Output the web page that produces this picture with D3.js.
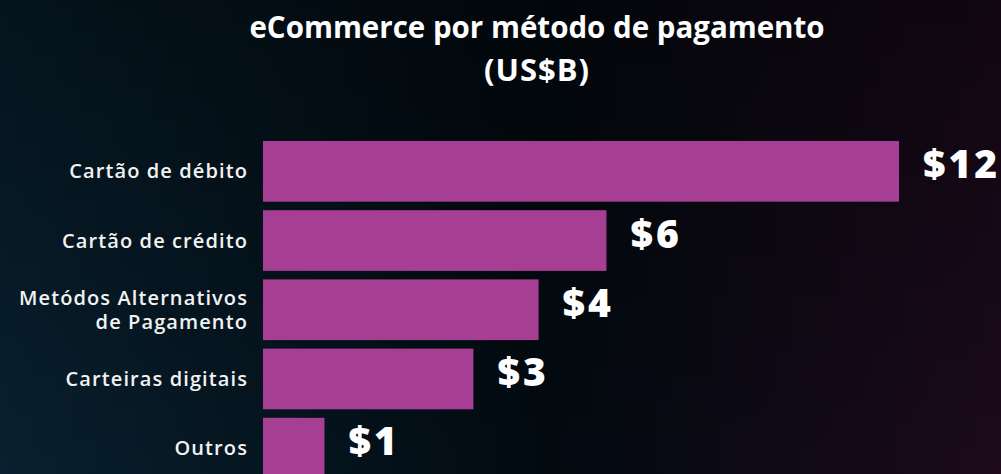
<!DOCTYPE html>
<html>
<head>
<meta charset="utf-8">
<script src="https://cdn.jsdelivr.net/npm/d3@7"></script>
<style>
  html, body { margin: 0; padding: 0; background: #03090f; }
  svg { display: block; }
</style>
</head>
<body>
<div id="chart"></div>
<script>
// data
const categories = ["Cartão de débito", "Cartão de crédito", "Metódos Alternativos\nde Pagamento", "Carteiras digitais", "Outros"];
const values = [12, 6.48, 5.2, 3.97, 1.16];
const valueLabels = ["$12", "$6", "$4", "$3", "$1"];
const titleLines = ["eCommerce por método de pagamento", "(US$B)"];

const width = 1001, height = 474;
const barColor = "#a63e93";

const svg = d3.select("#chart").append("svg")
  .attr("width", width)
  .attr("height", height);

// background gradients
const defs = svg.append("defs");
const gH = defs.append("linearGradient").attr("id", "bgH").attr("x1", 0).attr("x2", 1).attr("y1", 0).attr("y2", 0);
gH.append("stop").attr("offset", "0%").attr("stop-color", "#08202f");
gH.append("stop").attr("offset", "55%").attr("stop-color", "#020a10");
gH.append("stop").attr("offset", "100%").attr("stop-color", "#1c0a1c");
const gV = defs.append("linearGradient").attr("id", "bgV").attr("x1", 0).attr("x2", 0).attr("y1", 0).attr("y2", 1);
gV.append("stop").attr("offset", "0%").attr("stop-color", "#000").attr("stop-opacity", 0.4);
gV.append("stop").attr("offset", "100%").attr("stop-color", "#000").attr("stop-opacity", 0);

svg.append("rect").attr("width", width).attr("height", height).attr("fill", "url(#bgH)");
svg.append("rect").attr("width", width).attr("height", height).attr("fill", "url(#bgV)");

// title
svg.append("g")
  .selectAll("text")
  .data(titleLines)
  .enter().append("text")
  .attr("x", 537)
  .attr("y", (d, i) => 38 + i * 43)
  .attr("text-anchor", "middle")
  .attr("fill", "#ffffff")
  .style("font-family", "'Open Sans', sans-serif")
  .style("font-weight", 700)
  .style("font-size", (d, i) => i === 0 ? "29.5px" : "31px")
  .style("letter-spacing", (d, i) => i === 0 ? "0px" : "1px")
  .text(d => d);

// scales
const x = d3.scaleLinear().domain([0, 12]).range([263, 899]);
const y = d3.scaleBand().domain(categories).range([141, 478.5]).paddingInner(0.123).paddingOuter(0);

// bars
svg.append("g")
  .selectAll("rect")
  .data(categories)
  .enter().append("rect")
  .attr("x", x(0))
  .attr("y", d => y(d))
  .attr("width", (d, i) => x(values[i]) - x(0))
  .attr("height", y.bandwidth())
  .attr("fill", barColor);

// category labels
const labels = svg.append("g")
  .selectAll("text")
  .data(categories)
  .enter().append("text")
  .attr("text-anchor", "end")
  .attr("fill", "#f2f2f2")
  .style("font-family", "'Open Sans', sans-serif")
  .style("font-weight", 600)
  .style("font-size", "20px")
  .style("letter-spacing", "1.1px");

labels.each(function (d) {
  const lines = d.split("\n");
  const cy = y(d) + y.bandwidth() / 2;
  const lh = 24;
  d3.select(this).selectAll("tspan")
    .data(lines)
    .enter().append("tspan")
    .attr("x", 248)
    .attr("y", (l, i) => cy + 7 + (i - (lines.length - 1) / 2) * lh)
    .text(l => l);
});

// value labels
svg.append("g")
  .selectAll("text")
  .data(categories)
  .enter().append("text")
  .attr("x", (d, i) => x(values[i]) + 24)
  .attr("y", d => y(d) + y.bandwidth() / 2 + 7)
  .attr("fill", "#ffffff")
  .style("font-family", "'Open Sans', sans-serif")
  .style("font-weight", 800)
  .style("font-size", "39px")
  .style("letter-spacing", "3px")
  .text((d, i) => valueLabels[i]);
</script>
</body>
</html>
